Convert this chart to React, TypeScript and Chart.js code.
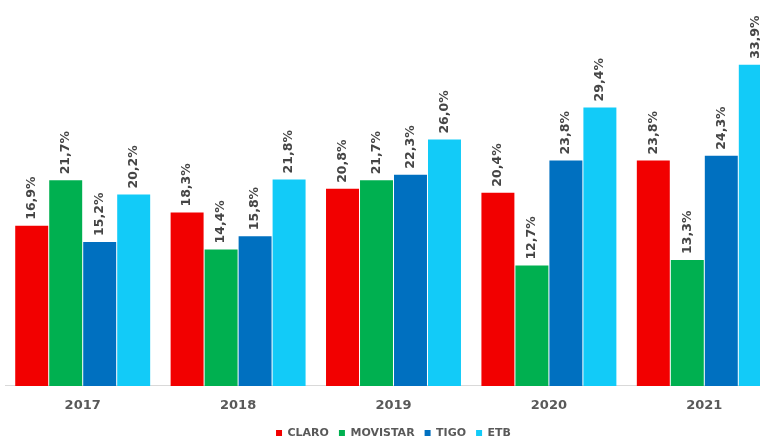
import React, { useEffect, useRef } from "react";
import { Chart, registerables } from "chart.js";

Chart.register(...registerables);

const years = ["2017", "2018", "2019", "2020", "2021"];
const claro = [16.9, 18.3, 20.8, 20.4, 23.8];
const movistar = [21.7, 14.4, 21.7, 12.7, 13.3];
const tigo = [15.2, 15.8, 22.3, 23.8, 24.3];
const etb = [20.2, 21.8, 26.0, 29.4, 33.9];

const seriesNames = ["CLARO", "MOVISTAR", "TIGO", "ETB"];
const seriesColors = ["#F20000", "#00B050", "#0070C0", "#12CBF8"];

const FONT = "'DejaVu Sans', sans-serif";

const labelPlugin = {
  id: "valueLabels",
  afterDatasetsDraw(chart: any) {
    const ctx = chart.ctx;
    ctx.save();
    ctx.font = `bold 12.5px ${FONT}`;
    ctx.fillStyle = "#454545";
    ctx.textAlign = "left";
    ctx.textBaseline = "middle";
    chart.data.datasets.forEach((ds: any, di: number) => {
      const meta = chart.getDatasetMeta(di);
      meta.data.forEach((bar: any, i: number) => {
        const v = ds.data[i];
        const txt = v.toFixed(1).replace(".", ",") + "%";
        ctx.save();
        ctx.translate(bar.x, bar.y - 6);
        ctx.rotate(-Math.PI / 2);
        ctx.fillText(txt, 0, 0);
        ctx.restore();
      });
    });
    ctx.restore();
  },
};

export default function App() {
  const ref = useRef<HTMLCanvasElement>(null);
  useEffect(() => {
    if (!ref.current) return;
    const values = [claro, movistar, tigo, etb];
    const chart = new Chart(ref.current, {
      type: "bar",
      data: {
        labels: years,
        datasets: seriesNames.map((n, i) => ({
          label: n,
          data: values[i],
          backgroundColor: seriesColors[i],
          borderWidth: 0,
          barPercentage: 0.97,
          categoryPercentage: 0.875,
        })),
      },
      options: {
        animation: false,
        responsive: true,
        maintainAspectRatio: false,
        layout: { padding: { top: 7, left: 5, right: 8, bottom: -9.5 } },
        plugins: {
          legend: {
            position: "bottom",
            labels: {
              boxWidth: 6,
              boxHeight: 6,
              padding: 10,
              color: "#595959",
              font: { family: FONT, size: 11, weight: "bold" },
            },
          },
          tooltip: { enabled: false },
        },
        scales: {
          x: {
            grid: { display: false },
            border: { display: true, color: "#D9D9D9" },
            ticks: {
              color: "#595959",
              padding: 4,
              font: { family: FONT, size: 13, weight: "bold" },
            },
          },
          y: {
            display: false,
            min: 0,
            max: 40,
          },
        },
      },
      plugins: [labelPlugin],
    });
    return () => chart.destroy();
  }, []);
  return (
    <div
      style={{
        position: "fixed",
        left: 0,
        top: 0,
        width: 760,
        height: 439,
        overflow: "hidden",
        background: "#fff",
      }}
    >
      <div style={{ width: 790, height: 439, position: "relative" }}>
        <canvas ref={ref} />
      </div>
    </div>
  );
}
